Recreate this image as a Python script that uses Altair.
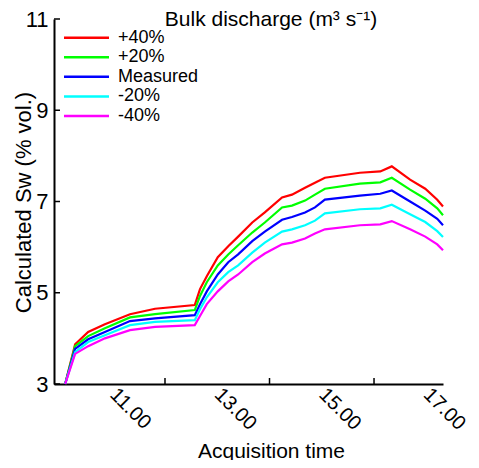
import altair as alt
import pandas as pd

# Acquisition time (decimal hours)
times = [10.09, 10.28, 10.53, 10.85, 11.33, 11.81, 12.57, 12.67, 12.80, 13.01,
         13.21, 13.40, 13.67, 13.91, 14.24, 14.43, 14.68, 14.87, 15.06, 15.73,
         16.12, 16.34, 16.69, 16.98, 17.21, 17.32]

plus40 = [3.0, 3.87, 4.14, 4.31, 4.53, 4.65, 4.73, 5.08, 5.36, 5.78, 6.02, 6.23, 6.54,
          6.76, 7.09, 7.15, 7.30, 7.41, 7.52, 7.63, 7.66, 7.77, 7.48, 7.28, 7.04, 6.89]
plus20 = [3.0, 3.83, 4.05, 4.22, 4.46, 4.53, 4.62, 4.93, 5.23, 5.60, 5.84, 6.04, 6.32,
          6.54, 6.87, 6.91, 7.02, 7.15, 7.28, 7.39, 7.42, 7.52, 7.26, 7.06, 6.85, 6.70]
measured = [3.0, 3.77, 3.98, 4.14, 4.38, 4.44, 4.51, 4.75, 5.03, 5.40, 5.67, 5.84, 6.13,
            6.34, 6.60, 6.66, 6.76, 6.87, 7.04, 7.13, 7.17, 7.24, 7.00, 6.80, 6.62, 6.48]
minus20 = [3.0, 3.70, 3.92, 4.07, 4.29, 4.36, 4.40, 4.64, 4.90, 5.23, 5.45, 5.60, 5.88,
           6.10, 6.34, 6.39, 6.48, 6.58, 6.74, 6.83, 6.85, 6.93, 6.72, 6.55, 6.35, 6.22]
minus40 = [3.0, 3.66, 3.83, 4.00, 4.18, 4.25, 4.29, 4.49, 4.75, 5.03, 5.25, 5.40, 5.67,
           5.86, 6.06, 6.10, 6.19, 6.30, 6.39, 6.48, 6.50, 6.57, 6.39, 6.23, 6.06, 5.93]

series_names = ["+40%", "+20%", "Measured", "-20%", "-40%"]
series_colors = ["#ff0000", "#00ff00", "#0000ff", "#00ffff", "#ff00ff"]
series_values = [plus40, plus20, measured, minus20, minus40]

y_ticks = [3, 5, 7, 9, 11]
x_label_ticks = [11, 13, 15, 17]
x_mark_ticks = [12, 14, 16]
legend_title = "Bulk discharge (m³ s⁻¹)"

FONT = "Liberation Sans"

rows = []
for name, vals in zip(series_names, series_values):
    for t, v in zip(times, vals):
        rows.append({"t": t, "sw": v, "series": name})
df = pd.DataFrame(rows)

color_scale = alt.Scale(domain=series_names, range=series_colors)

x_enc = alt.X(
    "t:Q",
    scale=alt.Scale(domain=[9.876, 17.32], nice=False, zero=False),
    axis=alt.Axis(
        values=x_label_ticks, format=".2f", labelAngle=45, labelAlign="left",
        labelBaseline="top", labelPadding=0, labelOffset=7, labelFontSize=20,
        labelFlush=False, labelOverlap=False, ticks=False, grid=False,
        domainColor="black", domainWidth=2, labelColor="black",
        title="Acquisition time", titleFontSize=21, titleFontWeight="normal",
        titleColor="black", titleX=217, titleY=73, titleBaseline="alphabetic",
        titleAlign="center", labelFont=FONT, titleFont=FONT,
    ),
)
y_enc = alt.Y(
    "sw:Q",
    scale=alt.Scale(domain=[3, 11], nice=False, zero=False),
    axis=alt.Axis(
        values=y_ticks, ticks=False, labelPadding=6, labelFontSize=22,
        grid=False, domainColor="black", domainWidth=2, labelColor="black",
        title="Calculated Sw (% vol.)", titleFontSize=22, titleFontWeight="normal",
        titleColor="black", titleX=-24, titleY=183, titleBaseline="alphabetic",
        titleAlign="center", titleAngle=-90, labelFont=FONT, titleFont=FONT,
    ),
)

lines = alt.Chart(df).mark_line(strokeWidth=2.2).encode(
    x=x_enc,
    y=y_enc,
    color=alt.Color("series:N", scale=color_scale, legend=None),
    order=alt.Order("t:Q"),
)

ytick_df = pd.DataFrame({"sw": y_ticks})
ytick_rules = alt.Chart(ytick_df).mark_rule(color="black", strokeWidth=1.5).encode(
    y=alt.Y("sw:Q"), x=alt.value(0), x2=alt.value(6)
)
xtick_df = pd.DataFrame({"t": x_mark_ticks})
xtick_rules = alt.Chart(xtick_df).mark_rule(color="black", strokeWidth=1.5).encode(
    x=alt.X("t:Q"), y=alt.value(365), y2=alt.value(359)
)

main = alt.layer(lines, ytick_rules, xtick_rules)

leg_df = pd.DataFrame({"series": series_names})
leg_y = alt.Y("series:N", sort=series_names, axis=None,
              scale=alt.Scale(type="point", range=[18.7, 97], padding=0))
leg_rules = alt.Chart(leg_df).mark_rule(strokeWidth=2.5).encode(
    y=leg_y, x=alt.value(10), x2=alt.value(55),
    color=alt.Color("series:N", scale=color_scale, legend=None),
)
leg_text = alt.Chart(leg_df).mark_text(
    align="left", baseline="middle", fontSize=18, font=FONT, color="black"
).encode(y=leg_y, x=alt.value(64), text="series:N")

title_df = pd.DataFrame({"label": [legend_title]})
title_text = alt.Chart(title_df).mark_text(
    align="center", baseline="alphabetic", fontSize=21, font=FONT, color="black"
).encode(x=alt.value(217), y=alt.value(7), text="label:N")

legend_layer = alt.layer(leg_rules, leg_text, title_text)

chart = alt.layer(main, legend_layer).resolve_scale(y="independent").properties(
    width=389, height=365,
    padding={"left": 46, "top": 11, "right": 28, "bottom": 76},
    autosize=alt.AutoSizeParams(type="none"),
    background="white",
).configure_view(stroke=None)

chart.save("out.html", embed_options={"renderer": "svg", "actions": False})
